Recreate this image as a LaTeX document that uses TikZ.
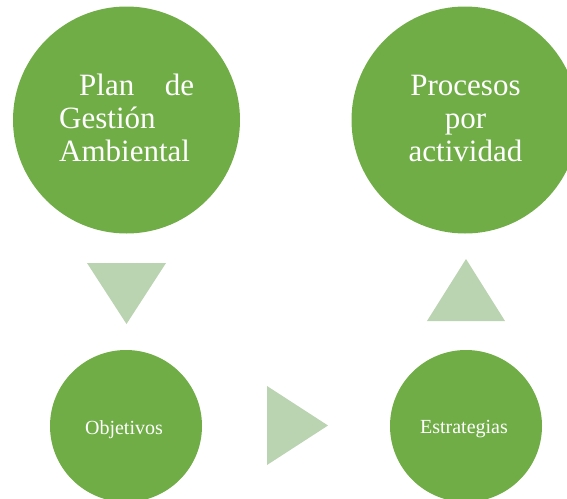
\documentclass[tikz,border=0pt]{standalone}
\usepackage{fontspec}
\setmainfont{Liberation Serif}
\definecolor{circgreen}{HTML}{70AD47}
\definecolor{trigreen}{HTML}{BAD3B0}
\begin{document}
\begin{tikzpicture}[x=1pt,y=-1pt,
  bigc/.style={circle,fill=circgreen,draw=none,minimum size=227pt,inner sep=0pt},
  smallc/.style={circle,fill=circgreen,draw=none,minimum size=152pt,inner sep=0pt},
  tri/.style={fill=trigreen,draw=none},
  bigtext/.style={text=white,inner sep=0pt,font=\fontsize{31}{33}\selectfont},
  smalltext/.style={text=white,inner sep=0pt,font=\fontsize{20}{24}\selectfont}]
\useasboundingbox (0,0) rectangle (567,498);
\begin{scope}
\clip (0,0) rectangle (567,498);
\node[bigc] (plan) at (126.5,120) {};
\node[bigc] (proc) at (465,120) {};
\node[smallc] (obj) at (126,426) {};
\node[smallc] (est) at (466,426) {};
\end{scope}
\node[bigtext,anchor=base west] (plantxt) at (59,95.5)
  {\begin{tabular}[t]{@{}l@{}}\hbox to 135pt{\hspace*{20pt}Plan\hfill de}\\Gestión\\Ambiental\end{tabular}};
\node[bigtext,anchor=base] (proctxt) at (465.5,95.5)
  {\begin{tabular}[t]{@{}c@{}}Procesos\\por\\actividad\end{tabular}};
\node[smalltext,anchor=base] (objtxt) at (124,434) {Objetivos};
\node[smalltext,anchor=base] (esttxt) at (464,433.5) {Estrategias};
\coordinate (d1) at (87,263);
\coordinate (d2) at (166,263);
\coordinate (d3) at (126.5,324);
\fill[tri] (d1) -- (d2) -- (d3) -- cycle;
\coordinate (u1) at (427,321);
\coordinate (u2) at (505,321);
\coordinate (u3) at (466,259);
\fill[tri] (u1) -- (u2) -- (u3) -- cycle;
\coordinate (r1) at (267,386);
\coordinate (r2) at (267,465);
\coordinate (r3) at (328,425.5);
\fill[tri] (r1) -- (r2) -- (r3) -- cycle;
\end{tikzpicture}
\end{document}
